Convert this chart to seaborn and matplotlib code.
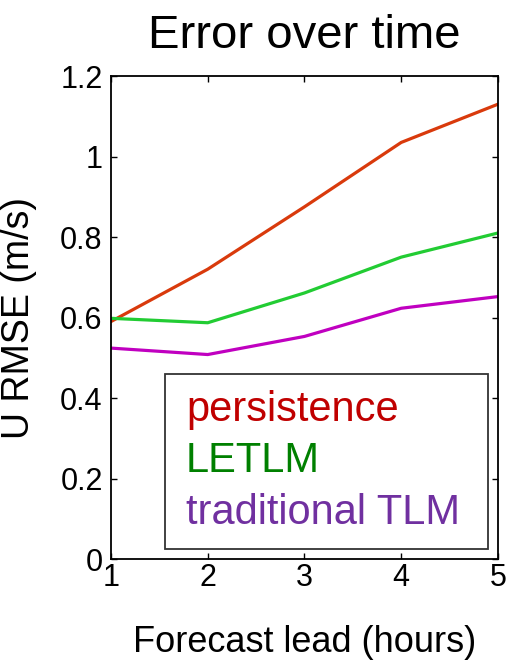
import pandas as pd
import matplotlib
matplotlib.use('Agg')
import matplotlib.pyplot as plt
import seaborn as sns

# Forecast lead (hours) and U RMSE (m/s) per method
lead_hours = [1, 2, 3, 4, 5]
persistence = [0.59, 0.72, 0.875, 1.035, 1.13]
letlm = [0.598, 0.587, 0.661, 0.75, 0.81]
traditional_tlm = [0.524, 0.508, 0.553, 0.623, 0.652]

series_names = ['persistence', 'LETLM', 'traditional TLM']
line_colors = ['#d93a0c', '#22cc33', '#c000c0']
text_colors = ['#c00000', '#008000', '#7030a0']

df = pd.DataFrame({
    'lead': lead_hours * 3,
    'rmse': persistence + letlm + traditional_tlm,
    'method': [n for n in series_names for _ in lead_hours],
})

sns.set_style('white')
plt.rcParams['font.family'] = ['Liberation Sans', 'DejaVu Sans']
plt.rcParams['text.color'] = 'black'
plt.rcParams['axes.labelcolor'] = 'black'

fig = plt.figure(figsize=(5.1, 6.61), dpi=100)
ax = fig.add_axes([0.2176, 0.1543, 0.7588, 0.7307])

sns.lineplot(data=df, x='lead', y='rmse', hue='method', hue_order=series_names,
             palette=line_colors, linewidth=2.3, ax=ax, legend=False)

ax.set_xlim(1, 5)
ax.set_ylim(0, 1.2)
ax.set_xticks(lead_hours)
ax.set_yticks([0, 0.2, 0.4, 0.6, 0.8, 1.0, 1.2])
ax.set_yticklabels(['0', '0.2', '0.4', '0.6', '0.8', '1', '1.2'])
ax.tick_params(direction='in', length=4, width=1, labelsize=22,
               top=True, right=True, bottom=True, left=True, colors='black', pad=3)
ax.tick_params(axis='y', pad=6)
for s in ax.spines.values():
    s.set_color('black')
    s.set_linewidth(1.3)

ax.set_title('Error over time', fontsize=34, pad=20)
ax.set_xlabel('Forecast lead (hours)', fontsize=26, labelpad=23)
ax.set_ylabel('U RMSE (m/s)', fontsize=27)
ax.yaxis.set_label_coords(-0.19, 0.5)

# legend: coloured text only, no line handles, box stretched to the left
handles = [plt.Line2D([], [], color='none') for _ in series_names]
leg = ax.legend(handles, series_names, loc='lower left',
                bbox_to_anchor=(0.14, 0.02, 0.835, 0.3), mode='expand',
                fontsize=30, handlelength=0, handletextpad=0.1, frameon=True,
                fancybox=False, edgecolor='black', borderpad=0.4, labelspacing=0.27,
                borderaxespad=0)
leg.get_frame().set_linewidth(1.3)
for t, c in zip(leg.get_texts(), text_colors):
    t.set_color(c)

fig.savefig('out.png', dpi=100)
